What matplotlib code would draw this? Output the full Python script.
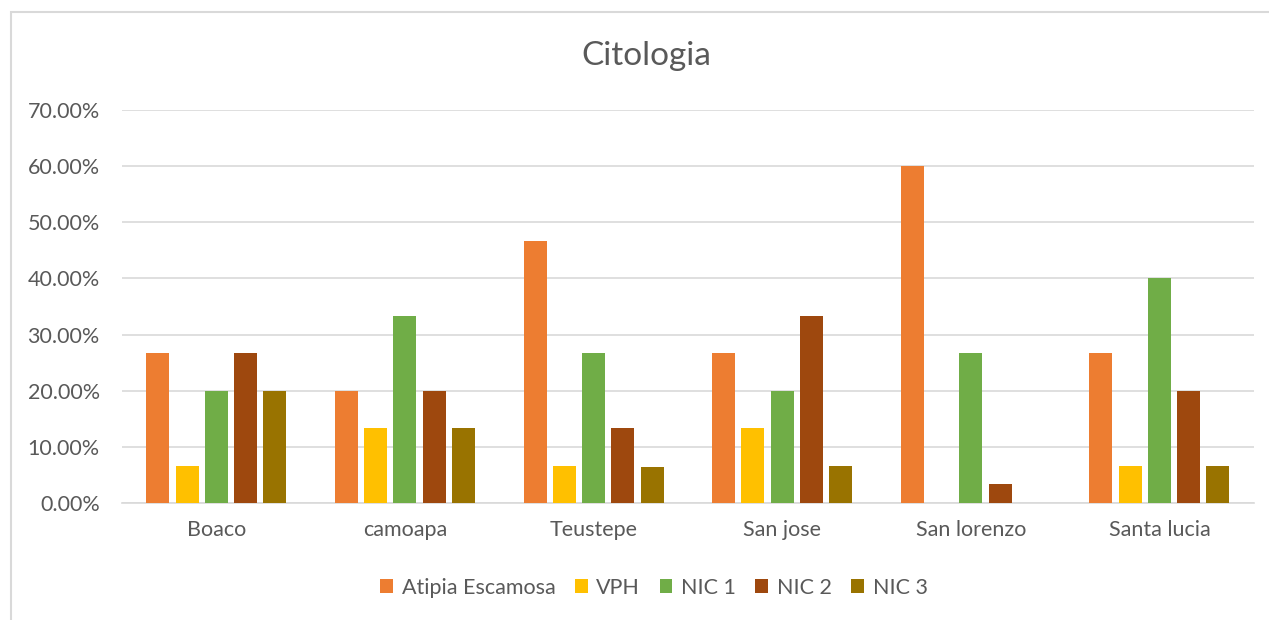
import matplotlib
matplotlib.use("Agg")
import matplotlib.pyplot as plt
import numpy as np
from matplotlib.patches import Rectangle
from matplotlib.ticker import PercentFormatter

# datos
municipios = ["Boaco", "camoapa", "Teustepe", "San jose", "San lorenzo", "Santa lucia"]
series = ["Atipia Escamosa", "VPH", "NIC 1", "NIC 2", "NIC 3"]
atipia = [26.67, 20.00, 46.67, 26.67, 60.00, 26.67]
vph = [6.67, 13.33, 6.67, 13.33, 0.0, 6.67]
nic1 = [20.00, 33.33, 26.67, 20.00, 26.67, 40.00]
nic2 = [26.67, 20.00, 13.33, 33.33, 3.33, 20.00]
nic3 = [20.00, 13.33, 6.45, 6.67, 0.0, 6.67]
colores = ["#ED7D31", "#FFC000", "#70AD47", "#9E480E", "#997300"]

plt.rcParams["font.family"] = ["Lato", "DejaVu Sans"]
texto = "#595959"
grid = "#D9D9D9"

fig = plt.figure(figsize=(12.69, 6.2), dpi=100)
ax = fig.add_axes([0.0961, 0.1887, 0.8919, 0.6339])

# marco del grafico
fig.patches.append(Rectangle((11 / 1269, -0.05), 1.2, 1 - 12 / 620 + 0.05,
                             transform=fig.transFigure, fill=False,
                             edgecolor=grid, linewidth=1.5))

x = np.arange(len(municipios))
ancho = 0.122
paso = 0.155
datos = [atipia, vph, nic1, nic2, nic3]
for i, (nombre, vals) in enumerate(zip(series, datos)):
    off = (i - 2) * paso
    ax.bar(x + off, np.array(vals) / 100, width=ancho, color=colores[i],
           label=nombre, zorder=3)

ax.set_xlim(-0.5, len(municipios) - 0.5)
ax.set_ylim(0, 0.70)
ax.set_yticks(np.arange(0, 0.71, 0.10))
ax.yaxis.set_major_formatter(PercentFormatter(1.0, decimals=2))
ax.grid(axis="y", color=grid, linewidth=1.2, zorder=0)
for s in ["top", "right", "left"]:
    ax.spines[s].set_visible(False)
ax.spines["bottom"].set_color(grid)
ax.spines["bottom"].set_linewidth(1.2)
ax.set_xticks(x)
ax.set_xticklabels(municipios)
ax.tick_params(axis="both", length=0, colors=texto, labelsize=15.5)
ax.tick_params(axis="y", pad=16)
ax.tick_params(axis="x", pad=12)

fig.text(0.509, 0.91, "Citologia", ha="center", va="center",
         fontsize=24, color=texto)

ax.legend(loc="center", bbox_to_anchor=(0.47, -0.216), ncol=5, frameon=False,
          fontsize=15.5, labelcolor=texto, handlelength=0.6, handleheight=0.6,
          handletextpad=0.4, columnspacing=0.9)

fig.savefig("out.png", dpi=100)
